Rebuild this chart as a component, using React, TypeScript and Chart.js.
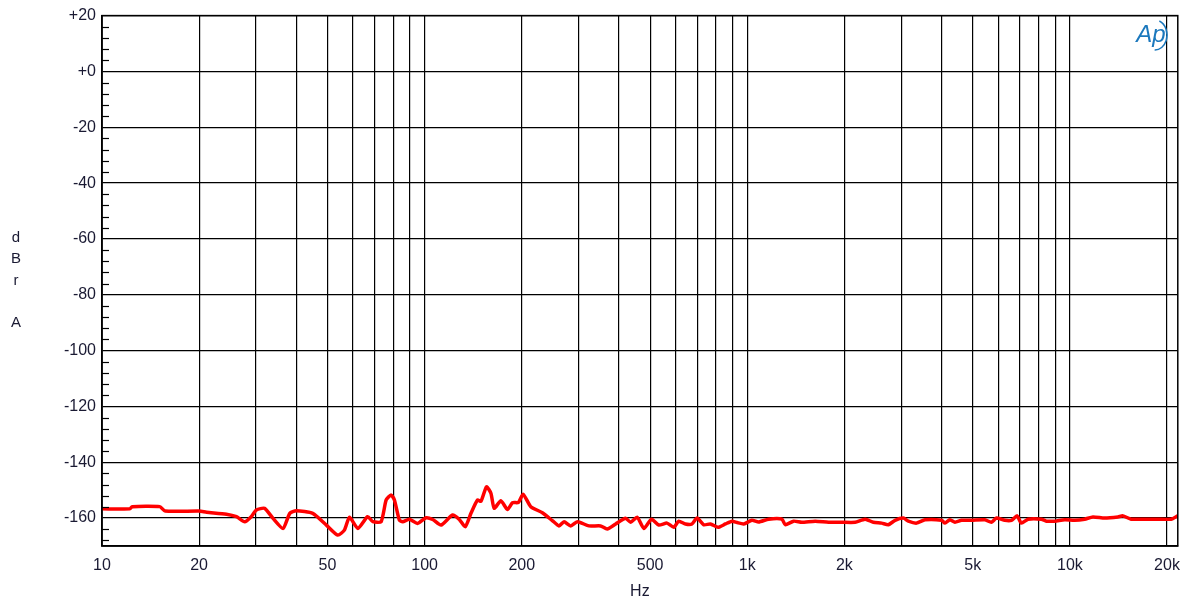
import React, { useEffect, useRef } from "react";
import { Chart, registerables } from "chart.js";

Chart.register(...registerables);

const freqHz: number[] = [
  10, 12.2, 12.4, 15.1, 15.7, 20, 21.1, 24.3, 26.1, 27.7, 29.0, 30.1, 31.9, 33.9, 36.4, 38.2, 40.0, 45.0, 49.6, 53.8,
  56.4, 58.5, 62.1, 66.6, 69.1, 73.3, 76.0, 78.7, 80.6, 83.5, 85.5, 89.7, 95.1, 101, 105.9, 112.4, 122.1, 128.1, 133.6,
  139.2, 145.9, 149.5, 155.5, 160.5, 164.3, 172.3, 180.6, 187.2, 195.3, 202, 213.3, 231.7, 248.8, 261, 270.5, 283.7,
  297.3, 323, 351, 368, 391, 420, 435, 456, 478, 505, 532, 564, 592, 613, 643, 674, 699, 733, 769, 812, 856, 897, 930,
  975, 1034, 1085, 1165, 1281, 1312, 1392, 1476, 1624, 1786, 1963, 2160, 2319, 2460, 2610, 2737, 2872, 3046, 3157,
  3349, 3555, 4002, 4100, 4248, 4403, 4615, 4955, 5451, 5713, 5921, 6286, 6590, 6862, 7075, 7420, 8157, 8453, 8975,
  9637, 10346, 11110, 11790, 12810, 14090, 14600, 15480, 17030, 18730, 20590, 21600,
];

const levelDbr: number[] = [
  -156.7, -156.7, -155.9, -155.9, -157.5, -157.5, -157.9, -158.6, -159.5, -161.3, -159.5, -157.1, -156.5, -160.1,
  -163.7, -158.3, -157.4, -158.3, -162.5, -166.1, -164.3, -159.7, -163.7, -159.5, -161.3, -161.3, -153.5, -151.7,
  -153.5, -160.7, -161.3, -160.4, -161.9, -159.9, -160.5, -162.5, -158.9, -160.5, -163.1, -158.3, -153.5, -154.0,
  -148.8, -151.1, -156.5, -153.8, -156.9, -154.5, -154.4, -151.5, -155.9, -158.1, -160.9, -162.8, -161.3, -162.8,
  -161.3, -162.8, -162.8, -163.9, -162.1, -160.1, -161.5, -159.7, -163.7, -160.4, -162.5, -161.8, -163.3, -161.1,
  -162.1, -162.1, -160.0, -162.4, -162.1, -163.3, -162.1, -161.1, -161.6, -162.1, -160.8, -161.4, -160.4, -160.4,
  -162.4, -161.1, -161.5, -161.1, -161.5, -161.5, -161.5, -160.4, -161.5, -161.8, -162.4, -160.8, -160.0, -161.1,
  -161.8, -160.6, -160.8, -161.8, -160.6, -161.5, -160.8, -160.8, -160.6, -161.5, -160.0, -160.8, -160.8, -159.2,
  -161.8, -160.4, -160.4, -161.1, -161.1, -160.6, -160.8, -160.4, -159.6, -160.0, -159.6, -159.2, -160.4, -160.4,
  -160.4, -160.4, -159.2,
];

const xGridHz: number[] = [
  10, 20, 30, 40, 50, 60, 70, 80, 90, 100, 200, 300, 400, 500, 600, 700, 800, 900, 1000, 2000, 3000, 4000, 5000,
  6000, 7000, 8000, 9000, 10000, 20000,
];
const xLabelHz: number[] = [10, 20, 50, 100, 200, 500, 1000, 2000, 5000, 10000, 20000];
const yTitleLetters: string[] = ["d", "B", "r", "", "A"];

const FONT = "'Liberation Sans', Arial, sans-serif";
const TEXT = "#1a1a33";

const decor = {
  id: "decor",
  afterDraw(chart: any) {
    const { ctx, chartArea, scales } = chart;
    const y = scales.y;
    ctx.save();
    ctx.strokeStyle = "#000";
    ctx.lineWidth = 1.2;
    for (let v = -168; v < 20; v += 4) {
      if (v % 20 === 0) continue;
      const py = Math.round(y.getPixelForValue(v)) + 0.5;
      ctx.beginPath();
      ctx.moveTo(chartArea.left, py);
      ctx.lineTo(chartArea.left + 7, py);
      ctx.stroke();
    }
    ctx.fillStyle = TEXT;
    ctx.font = `15px ${FONT}`;
    ctx.textAlign = "center";
    ctx.textBaseline = "middle";
    yTitleLetters.forEach((l, i) => {
      if (l) ctx.fillText(l, 16, 238 + i * 21.3);
    });
    ctx.font = `16px ${FONT}`;
    ctx.fillText("Hz", (chartArea.left + chartArea.right) / 2, 592);
    ctx.fillStyle = "#1b78bd";
    ctx.strokeStyle = "#1b78bd";
    ctx.font = `italic 24px ${FONT}`;
    ctx.fillText("Ap", 1151, 35);
    ctx.lineWidth = 1.5;
    ctx.beginPath();
    ctx.ellipse(1155, 35, 12, 15, 0, -1.2, 1.6);
    ctx.stroke();
    ctx.restore();
  },
};

export default function App() {
  const ref = useRef<HTMLCanvasElement | null>(null);
  useEffect(() => {
    document.body.style.margin = "0";
    const points = freqHz.map((f, i) => ({ x: f, y: levelDbr[i] }));
    const chart = new Chart(ref.current as HTMLCanvasElement, {
      type: "line",
      data: {
        datasets: [
          {
            data: points,
            borderColor: "#ff0000",
            borderWidth: 3.5,
            pointRadius: 0,
            tension: 0.2,
            fill: false,
          },
        ],
      },
      options: {
        animation: false,
        responsive: false,
        devicePixelRatio: 1,
        layout: { padding: { top: 15, right: 10, left: 0, bottom: 0 } },
        plugins: { legend: { display: false }, tooltip: { enabled: false } },
        scales: {
          x: {
            type: "logarithmic",
            min: 10,
            max: 21600,
            afterBuildTicks: (s: any) => {
              s.ticks = xGridHz.map((v) => ({ value: v }));
            },
            afterFit: (s: any) => {
              s.height = 60;
            },
            ticks: {
              autoSkip: false,
              maxRotation: 0,
              padding: 10,
              color: TEXT,
              font: { family: FONT, size: 16 },
              callback: (v: any) => {
                const n = Number(v);
                if (!xLabelHz.includes(n)) return "";
                return n >= 1000 ? `${n / 1000}k` : `${n}`;
              },
            },
            grid: { color: "#000", lineWidth: 1.2, drawTicks: false },
            border: { color: "#000", width: 1.5 },
          },
          y: {
            type: "linear",
            min: -170,
            max: 20,
            ticks: {
              stepSize: 20,
              padding: 6,
              color: TEXT,
              font: { family: FONT, size: 16 },
              callback: (v: any) => {
                const n = Number(v);
                if (n % 20 !== 0) return "";
                return n >= 0 ? `+${n}` : `${n}`;
              },
            },
            afterFit: (s: any) => {
              s.width = 102;
            },
            grid: { color: "#000", lineWidth: 1.2, drawTicks: false },
            border: { color: "#000", width: 1.5 },
          },
        },
      },
      plugins: [
        decor,
        {
          id: "frame",
          afterDatasetsDraw(chart: any) {
            const { ctx, chartArea } = chart;
            ctx.save();
            ctx.strokeStyle = "#000";
            ctx.lineWidth = 1.5;
            ctx.strokeRect(chartArea.left, chartArea.top, chartArea.right - chartArea.left, chartArea.bottom - chartArea.top);
            ctx.restore();
          },
        },
      ],
    } as any);
    return () => chart.destroy();
  }, []);
  return (
    <div style={{ position: "absolute", left: 0, top: 0, width: 1190, height: 606, background: "#fff" }}>
      <canvas ref={ref} width={1190} height={606} />
    </div>
  );
}
